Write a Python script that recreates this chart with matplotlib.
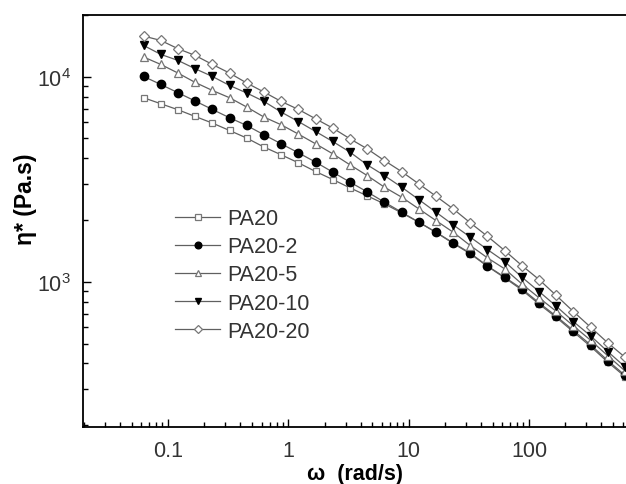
import matplotlib
matplotlib.use("Agg")
import matplotlib.pyplot as plt
from matplotlib.ticker import LogLocator, NullFormatter, FuncFormatter

plt.rcParams['font.family'] = ['Liberation Sans', 'DejaVu Sans']

# angular frequency, rad/s
omega = [0.0628, 0.0873, 0.1213, 0.1685, 0.2341, 0.3253, 0.452, 0.628,
         0.873, 1.213, 1.685, 2.341, 3.253, 4.52, 6.28, 8.73, 12.13, 16.85,
         23.41, 32.53, 45.2, 62.8, 87.3, 121.3, 168.5, 234.1, 325.3, 452.0, 628.0]

# complex viscosity, Pa.s
pa20 = [7900, 7385, 6903, 6402, 5944, 5470, 5023, 4541, 4164, 3806, 3452,
        3155, 2874, 2627, 2402, 2171, 1955, 1744, 1541, 1370, 1190, 1046,
        913, 779, 671, 570, 484, 406, 345]
pa20_2 = [10030, 9170, 8356, 7613, 6927, 6310, 5786, 5212, 4712, 4258, 3836,
          3428, 3064, 2748, 2448, 2188, 1955, 1747, 1550, 1380, 1195, 1054,
          925, 790, 680, 579, 493, 413, 350]
pa20_5 = [12480, 11480, 10420, 9380, 8575, 7900, 7115, 6360, 5833, 5253, 4712,
          4211, 3722, 3300, 2897, 2590, 2271, 1991, 1747, 1503, 1309, 1157,
          977, 836, 718, 610, 519, 436, 368]
pa20_10 = [14210, 12850, 12010, 10940, 10030, 9070, 8330, 7580, 6725, 6050, 5410,
           4835, 4292, 3722, 3300, 2897, 2520, 2188, 1897, 1652, 1437, 1256,
           1054, 897, 761, 640, 545, 457, 385]
pa20_20 = [15790, 15030, 13700, 12700, 11480, 10420, 9320, 8420, 7580, 6930, 6240,
           5620, 4985, 4455, 3905, 3450, 3006, 2618, 2271, 1940, 1667, 1421,
           1201, 1026, 858, 716, 601, 504, 429]

labels = ['PA20', 'PA20-2', 'PA20-5', 'PA20-10', 'PA20-20']

fig = plt.figure(figsize=(6.26, 4.85), dpi=100)
ax = fig.add_axes([0.1326, 0.1175, 0.8674, 0.8495])

line_c = '#606060'
open_c = '#777777'

ax.plot(omega, pa20, '-', color=line_c, lw=0.9, marker='s', ms=5,
        mfc='white', mec=open_c, mew=0.9, label=labels[0])
ax.plot(omega, pa20_2, '-', color=line_c, lw=0.9, marker='o', ms=6,
        mfc='black', mec='black', label=labels[1])
ax.plot(omega, pa20_5, '-', color=line_c, lw=0.9, marker='^', ms=6,
        mfc='white', mec=open_c, mew=0.9, label=labels[2])
ax.plot(omega, pa20_10, '-', color=line_c, lw=0.9, marker='v', ms=6,
        mfc='black', mec='black', label=labels[3])
ax.plot(omega, pa20_20, '-', color=line_c, lw=0.9, marker='D', ms=5,
        mfc='white', mec=open_c, mew=0.9, label=labels[4])

ax.set_xscale('log')
ax.set_yscale('log')
ax.set_xlim(0.0197, 640)
ax.set_ylim(196, 20000)

ax.xaxis.set_major_locator(LogLocator(base=10, numticks=10))
ax.xaxis.set_minor_locator(LogLocator(base=10, subs=range(2, 10), numticks=20))
ax.xaxis.set_major_formatter(FuncFormatter(lambda v, p: '%g' % v))
ax.xaxis.set_minor_formatter(NullFormatter())
ax.yaxis.set_minor_formatter(NullFormatter())

ax.tick_params(which='both', direction='in', top=False, right=False,
               labelsize=15.5, labelcolor='#333333')
ax.tick_params(which='major', length=6, width=1)
ax.tick_params(which='minor', length=3.5, width=1)
ax.tick_params(axis='x', pad=9)
ax.tick_params(axis='y', pad=9)

for s in ['left', 'bottom', 'top']:
    ax.spines[s].set_linewidth(1.3)
ax.spines['right'].set_visible(False)

ax.set_xlabel('ω  (rad/s)', fontsize=15.5, fontweight='bold', labelpad=2)
ax.set_ylabel('η* (Pa.s)', fontsize=16.5, fontweight='bold')
ax.yaxis.set_label_coords(-0.084, 0.555)

leg = ax.legend(loc='upper left', bbox_to_anchor=(0.134, 0.578), frameon=False,
                fontsize=15.5, handlelength=2.1, handletextpad=0.3,
                labelspacing=0.33, markerscale=0.8)
for t in leg.get_texts():
    t.set_color('#333333')

fig.savefig('out.png', dpi=100)
